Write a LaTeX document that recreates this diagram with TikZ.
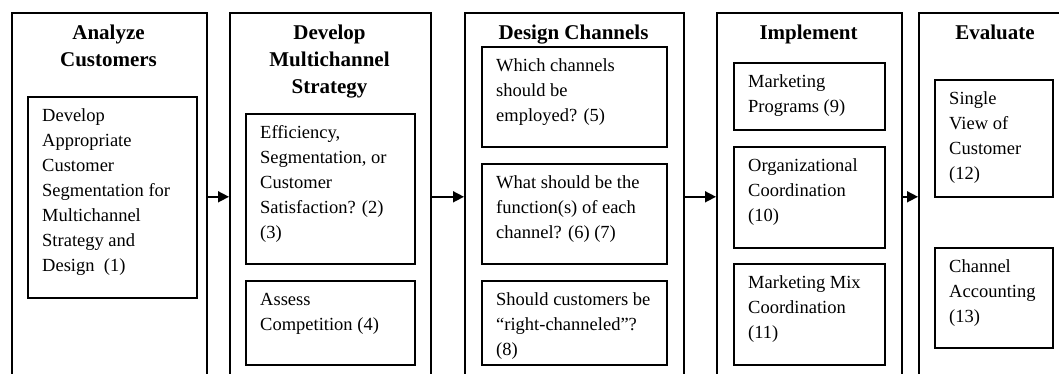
\documentclass[tikz,border=0pt]{standalone}
\usepackage{fontspec}
\setmainfont{Liberation Serif}
\usetikzlibrary{arrows.meta}
\begin{document}
\begin{tikzpicture}[x=1pt,y=-1pt,
  outer/.style={draw,line width=1.6pt,anchor=north west,inner sep=0pt},
  inner/.style={draw,line width=1.6pt,anchor=north west,inner sep=0pt},
  itext/.style={anchor=north west,inner sep=0pt,align=left,font=\fontsize{18.5}{25}\selectfont},
  ttext/.style={anchor=north,inner sep=0pt,align=center,font=\bfseries\fontsize{21}{27}\selectfont},
  flow/.style={line width=1.6pt,-{Triangle[length=11pt,width=11pt]}}]
\useasboundingbox (0,0) rectangle (1059,374);
\clip (0,0) rectangle (1059,374);
% outer columns (extend below the picture, centre at y=196)
\node[outer,minimum width=195pt,minimum height=368pt] (c1) at (11,12) {};
\node[outer,minimum width=201pt,minimum height=368pt] (c2) at (229,12) {};
\node[outer,minimum width=219pt,minimum height=368pt] (c3) at (464,12) {};
\node[outer,minimum width=185pt,minimum height=368pt] (c4) at (716,12) {};
\node[outer,minimum width=154pt,minimum height=368pt] (c5) at (918,12) {};
% titles
\node[ttext] (t1) at (108.5,20.1) {\strut Analyze\\Customers};
\node[ttext] (t2) at (329.5,20.1) {\strut Develop\\Multichannel\\Strategy};
\node[ttext] (t3) at (573.5,20.1) {\strut Design Channels};
\node[ttext] (t4) at (808.5,20.1) {\strut Implement};
\node[ttext] (t5) at (995,20.1) {\strut Evaluate};
% inner boxes
\node[inner,minimum width=169pt,minimum height=201pt] (a1) at (27,96) {};
\node[inner,minimum width=169pt,minimum height=150pt] (b1) at (245,113) {};
\node[inner,minimum width=169pt,minimum height=84pt] (b2) at (245,280) {};
\node[inner,minimum width=185pt,minimum height=100pt] (d1) at (481,46) {};
\node[inner,minimum width=185pt,minimum height=100pt] (d2) at (481,163) {};
\node[inner,minimum width=185pt,minimum height=84pt] (d3) at (481,280) {};
\node[inner,minimum width=151pt,minimum height=67pt] (e1) at (733,62) {};
\node[inner,minimum width=151pt,minimum height=101pt] (e2) at (733,146) {};
\node[inner,minimum width=151pt,minimum height=101pt] (e3) at (733,263) {};
\node[inner,minimum width=118pt,minimum height=117pt] (f1) at (934,79) {};
\node[inner,minimum width=118pt,minimum height=100pt] (f2) at (934,247) {};
% inner texts
\node[itext] (a1t) at ([xshift=15pt,yshift=-8pt]a1.north west) {\strut Develop\\Appropriate\\Customer\\Segmentation for\\Multichannel\\Strategy and\\Design\ \ (1)};
\node[itext] (b1t) at ([xshift=15pt,yshift=-7.5pt]b1.north west) {\strut Efficiency,\\Segmentation, or\\Customer\\Satisfaction? (2)\\(3)};
\node[itext] (b2t) at ([xshift=15pt,yshift=-7.5pt]b2.north west) {\strut Assess\\Competition (4)};
\node[itext] (d1t) at ([xshift=15pt,yshift=-7.5pt]d1.north west) {\strut Which channels\\should be\\employed? (5)};
\node[itext] (d2t) at ([xshift=15pt,yshift=-7.5pt]d2.north west) {\strut What should be the\\function(s) of each\\channel? (6) (7)};
\node[itext] (d3t) at ([xshift=15pt,yshift=-7.5pt]d3.north west) {\strut Should customers be\\``right-channeled''?\\(8)};
\node[itext] (e1t) at ([xshift=15pt,yshift=-8pt]e1.north west) {\strut Marketing\\Programs (9)};
\node[itext] (e2t) at ([xshift=15pt,yshift=-8pt]e2.north west) {\strut Organizational\\Coordination\\(10)};
\node[itext] (e3t) at ([xshift=15pt,yshift=-8pt]e3.north west) {\strut Marketing Mix\\Coordination\\(11)};
\node[itext] (f1t) at ([xshift=15pt,yshift=-8pt]f1.north west) {\strut Single\\View of\\Customer\\(12)};
\node[itext] (f2t) at ([xshift=15pt,yshift=-8pt]f2.north west) {\strut Channel\\Accounting\\(13)};
% connectors
\draw[flow] (c1.east) -- (c2.west);
\draw[flow] (c2.east) -- (c3.west);
\draw[flow] (c3.east) -- (c4.west);
\draw[flow] (c4.east) -- (c5.west);
\end{tikzpicture}
\end{document}
